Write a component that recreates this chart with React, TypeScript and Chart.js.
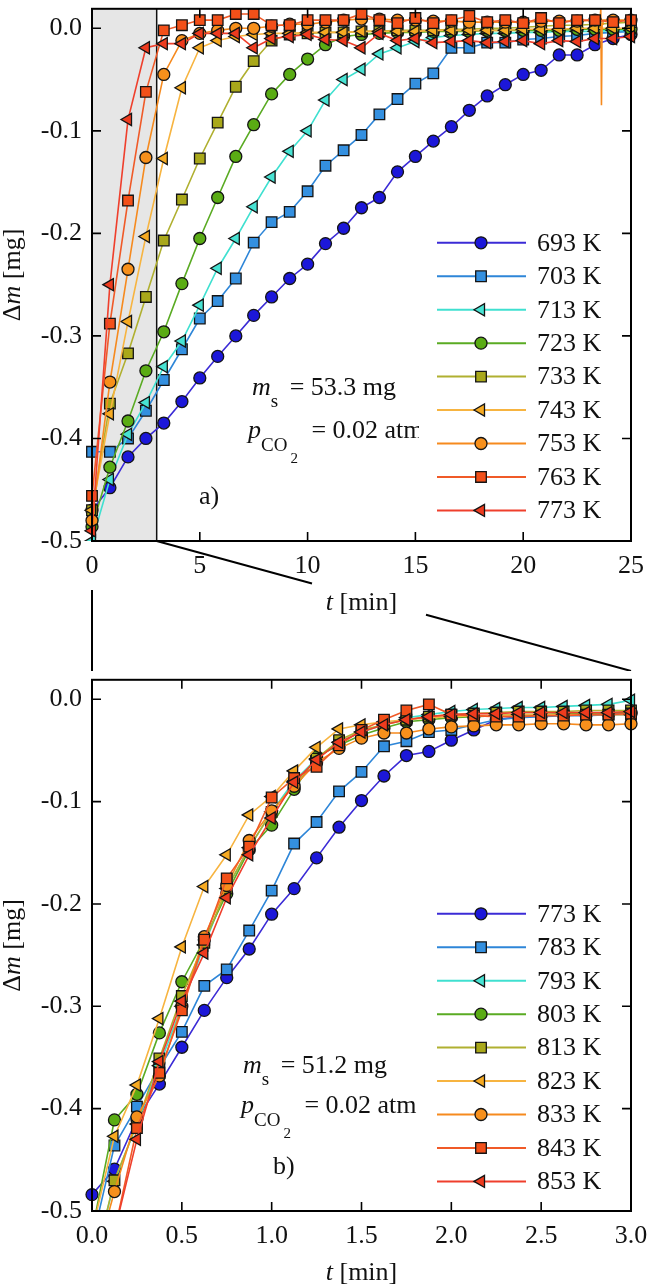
import React, { useEffect, useRef } from 'react';
import { Chart, registerables } from 'chart.js';

Chart.register(...registerables);

// ---------------- data: panel (a) ----------------
const TIME_A = [0, 0.83, 1.67, 2.5, 3.33, 4.17, 5, 5.83, 6.67, 7.5, 8.33, 9.17, 10, 10.83, 11.67, 12.5, 13.33, 14.17, 15, 15.83, 16.67, 17.5, 18.33, 19.17, 20, 20.83, 21.67, 22.5, 23.33, 24.17, 25];
const LABELS_A = ['693 K', '703 K', '713 K', '723 K', '733 K', '743 K', '753 K', '763 K', '773 K'];
const DM_A_693 = [-0.470, -0.448, -0.418, -0.400, -0.385, -0.364, -0.341, -0.320, -0.300, -0.280, -0.262, -0.244, -0.230, -0.210, -0.195, -0.175, -0.165, -0.140, -0.125, -0.110, -0.096, -0.080, -0.066, -0.055, -0.045, -0.041, -0.026, -0.026, -0.016, -0.010, -0.006];
const DM_A_703 = [-0.413, -0.413, -0.400, -0.373, -0.343, -0.313, -0.283, -0.266, -0.244, -0.209, -0.189, -0.179, -0.159, -0.134, -0.119, -0.104, -0.084, -0.069, -0.054, -0.044, -0.019, -0.019, -0.014, -0.014, -0.011, -0.010, -0.008, -0.007, -0.005, -0.004, -0.003];
const DM_A_713 = [-0.500, -0.440, -0.396, -0.365, -0.330, -0.305, -0.270, -0.234, -0.205, -0.174, -0.145, -0.120, -0.100, -0.070, -0.050, -0.040, -0.025, -0.019, -0.013, -0.009, -0.007, -0.006, -0.005, -0.005, -0.004, -0.004, -0.003, -0.003, -0.003, -0.002, -0.002];
const DM_A_723 = [-0.486, -0.428, -0.383, -0.334, -0.296, -0.249, -0.205, -0.165, -0.125, -0.094, -0.064, -0.045, -0.030, -0.016, -0.008, -0.006, -0.005, -0.004, -0.004, -0.003, -0.003, -0.003, -0.002, -0.002, -0.002, -0.002, -0.002, -0.001, -0.001, -0.001, -0.001];
const DM_A_733 = [-0.470, -0.366, -0.317, -0.262, -0.207, -0.167, -0.127, -0.092, -0.057, -0.032, -0.012, -0.006, -0.005, -0.004, -0.004, -0.003, -0.003, -0.002, -0.002, -0.002, -0.001, -0.001, 0.000, 0.000, 0.001, 0.002, 0.003, 0.003, 0.004, 0.005, 0.006];
const DM_A_743 = [-0.470, -0.376, -0.286, -0.203, -0.127, -0.058, -0.019, -0.012, -0.008, -0.006, -0.005, -0.005, -0.004, -0.004, -0.004, -0.003, -0.003, -0.003, -0.003, -0.002, -0.002, -0.002, -0.002, -0.002, -0.001, -0.001, -0.001, 0.000, 0.000, 0.000, 0.000];
const DM_A_753 = [-0.480, -0.345, -0.235, -0.126, -0.045, -0.012, -0.005, -0.002, 0.000, 0.000, 0.002, 0.004, 0.004, 0.006, 0.008, 0.009, 0.009, 0.008, 0.008, 0.007, 0.007, 0.006, 0.006, 0.006, 0.006, 0.007, 0.007, 0.007, 0.008, 0.008, 0.008];
const DM_A_763 = [-0.456, -0.288, -0.168, -0.062, -0.002, 0.003, 0.008, 0.008, 0.014, 0.014, 0.003, 0.003, 0.008, 0.008, 0.008, 0.014, 0.008, 0.005, 0.010, 0.005, 0.008, 0.012, 0.006, 0.008, 0.005, 0.010, 0.005, 0.008, 0.008, 0.006, 0.008];
const DM_A_773 = [-0.490, -0.250, -0.089, -0.019, -0.015, -0.015, -0.005, -0.005, -0.005, -0.019, -0.010, -0.008, -0.006, -0.011, -0.012, -0.019, -0.005, -0.012, -0.010, -0.014, -0.013, -0.012, -0.014, -0.013, -0.012, -0.015, -0.012, -0.013, -0.010, -0.010, -0.008];
// short glitch in the 753 K trace
const SPIKE_753_T = [23.56, 23.6, 23.63, 23.66, 23.7];
const SPIKE_753_V = [0.007, 0.019, -0.075, 0.004, 0.007];

// ---------------- data: panel (b) ----------------
const TIME_B = [0, 0.125, 0.25, 0.375, 0.5, 0.625, 0.75, 0.875, 1.0, 1.125, 1.25, 1.375, 1.5, 1.625, 1.75, 1.875, 2.0, 2.125, 2.25, 2.375, 2.5, 2.625, 2.75, 2.875, 3.0];
const LABELS_B = ['773 K', '783 K', '793 K', '803 K', '813 K', '823 K', '833 K', '843 K', '853 K'];
const DM_B_773 = [-0.484, -0.459, -0.410, -0.376, -0.340, -0.304, -0.272, -0.244, -0.210, -0.185, -0.155, -0.125, -0.099, -0.075, -0.055, -0.051, -0.040, -0.030, -0.020, -0.017, -0.016, -0.015, -0.015, -0.014, -0.014];
const DM_B_783 = [-0.530, -0.436, -0.398, -0.360, -0.325, -0.280, -0.264, -0.226, -0.187, -0.141, -0.120, -0.090, -0.071, -0.046, -0.041, -0.032, -0.030, -0.025, -0.020, -0.018, -0.017, -0.016, -0.016, -0.015, -0.015];
const DM_B_793 = [-0.560, -0.471, -0.415, -0.358, -0.300, -0.240, -0.185, -0.145, -0.110, -0.080, -0.058, -0.042, -0.032, -0.025, -0.018, -0.015, -0.012, -0.010, -0.009, -0.008, -0.008, -0.007, -0.006, -0.005, -0.001];
const DM_B_803 = [-0.520, -0.411, -0.386, -0.326, -0.276, -0.235, -0.190, -0.147, -0.123, -0.088, -0.056, -0.045, -0.035, -0.028, -0.022, -0.020, -0.018, -0.017, -0.016, -0.015, -0.015, -0.014, -0.014, -0.013, -0.013];
const DM_B_813 = [-0.560, -0.470, -0.415, -0.351, -0.290, -0.238, -0.185, -0.145, -0.110, -0.083, -0.058, -0.040, -0.030, -0.025, -0.020, -0.017, -0.015, -0.014, -0.013, -0.012, -0.012, -0.012, -0.011, -0.011, -0.011];
const DM_B_823 = [-0.520, -0.427, -0.377, -0.312, -0.242, -0.183, -0.152, -0.113, -0.095, -0.070, -0.047, -0.029, -0.025, -0.022, -0.020, -0.018, -0.017, -0.016, -0.016, -0.015, -0.015, -0.015, -0.015, -0.015, -0.015];
const DM_B_833 = [-0.560, -0.481, -0.408, -0.368, -0.300, -0.232, -0.182, -0.138, -0.109, -0.085, -0.062, -0.048, -0.038, -0.033, -0.033, -0.029, -0.027, -0.026, -0.025, -0.025, -0.024, -0.024, -0.025, -0.025, -0.024];
const DM_B_843 = [-0.620, -0.520, -0.419, -0.365, -0.304, -0.235, -0.175, -0.144, -0.096, -0.077, -0.066, -0.045, -0.030, -0.020, -0.011, -0.005, -0.015, -0.016, -0.017, -0.017, -0.016, -0.016, -0.015, -0.015, -0.014];
const DM_B_853 = [-0.620, -0.520, -0.430, -0.354, -0.295, -0.248, -0.194, -0.152, -0.116, -0.081, -0.059, -0.042, -0.032, -0.025, -0.020, -0.017, -0.015, -0.014, -0.014, -0.013, -0.013, -0.013, -0.013, -0.013, -0.012];

const Y_MIN = -0.5;
const Y_MAX = 0.019;
const Y_STEP = 0.1;

// ---------------- styles ----------------
const FAMILY = "'Liberation Serif', 'Times New Roman', serif";
const F_MAIN = `26px ${FAMILY}`;
const F_ITAL = `italic 26px ${FAMILY}`;
const F_SUB = `19px ${FAMILY}`;
const F_SUB2 = `15px ${FAMILY}`;
const TEXT = '#111';

const LINE_COLORS = ['#3b2bd6', '#2e86d8', '#3fe0d0', '#5aab23', '#b0b030', '#f7b440', '#f68a1e', '#f05a28', '#ef3f2c'];
const FILL_COLORS = ['#1c17d9', '#3490e0', '#47e3d3', '#5aac14', '#a9a81a', '#f6aa22', '#f7901c', '#f25019', '#ee3b1e'];
const STYLES = ['circle', 'rect', 'triangle', 'circle', 'rect', 'triangle', 'circle', 'rect', 'triangle'];
const RADII: Record<string, number> = { circle: 6, rect: 7.5, triangle: 7 };

type Run = [string, string, number, number?];

function drawRuns(ctx: CanvasRenderingContext2D, x: number, y: number, runs: Run[]) {
  let cx = x;
  for (const [text, font, dy, dx] of runs) {
    cx += dx || 0;
    ctx.font = font;
    ctx.fillText(text, cx, y + dy);
    cx += ctx.measureText(text).width;
  }
  return cx;
}

function runsWidth(ctx: CanvasRenderingContext2D, runs: Run[]) {
  let w = 0;
  for (const [text, font, , dx] of runs) {
    ctx.font = font;
    w += ctx.measureText(text).width + (dx || 0);
  }
  return w;
}

function drawMarker(ctx: CanvasRenderingContext2D, style: string, x: number, y: number, fill: string) {
  const r = RADII[style];
  ctx.beginPath();
  if (style === 'circle') {
    ctx.arc(x, y, r, 0, Math.PI * 2);
  } else if (style === 'rect') {
    const s = r * Math.SQRT1_2;
    ctx.rect(x - s, y - s, 2 * s, 2 * s);
  } else {
    ctx.moveTo(x - r, y);
    ctx.lineTo(x + r / 2, y - r * 0.866);
    ctx.lineTo(x + r / 2, y + r * 0.866);
    ctx.closePath();
  }
  ctx.fillStyle = fill;
  ctx.fill();
  ctx.lineWidth = 1.3;
  ctx.strokeStyle = '#141414';
  ctx.stroke();
}

type Panel = {
  id: string;
  times: number[];
  series: number[][];
  labels: string[];
  extra?: { t: number[]; v: number[]; color: number }[];
  xMin: number;
  xMax: number;
  xStep: number;
  xDecimals: number;
  canvasHeight: number;
  padTop: number;
  xAxisHeight: number;
  shadeTo?: number;
  mRuns: Run[];
  pRuns: Run[];
  tag: string;
  mX: number; mBase: number;
  pX: number; pBase: number;
  tagX: number; tagBase: number;
  titleBase: number;
  connectors: boolean;
};

const PANEL_A: Panel = {
  id: 'a',
  times: TIME_A,
  series: [DM_A_693, DM_A_703, DM_A_713, DM_A_723, DM_A_733, DM_A_743, DM_A_753, DM_A_763, DM_A_773],
  labels: LABELS_A,
  extra: [{ t: SPIKE_753_T, v: SPIKE_753_V, color: 6 }],
  xMin: 0, xMax: 25, xStep: 5, xDecimals: 0,
  canvasHeight: 671, padTop: 3, xAxisHeight: 130,
  shadeTo: 3,
  mRuns: [['m', F_ITAL, 0], ['s', F_SUB, 12], [' = 53.3 mg', F_MAIN, 0, 5]],
  pRuns: [['p', F_ITAL, 0], ['CO', F_SUB, 13], ['2', F_SUB2, 25, 3], [' = 0.02 atm', F_MAIN, 0, 7]],
  tag: 'a)',
  mX: 252, mBase: 386,
  pX: 248, pBase: 429,
  tagX: 199, tagBase: 495,
  titleBase: 610,
  connectors: true,
};

const PANEL_B: Panel = {
  id: 'b',
  times: TIME_B,
  series: [DM_B_773, DM_B_783, DM_B_793, DM_B_803, DM_B_813, DM_B_823, DM_B_833, DM_B_843, DM_B_853],
  labels: LABELS_B,
  xMin: 0, xMax: 3, xStep: 0.5, xDecimals: 1,
  canvasHeight: 616, padTop: 1, xAxisHeight: 76,
  mRuns: [['m', F_ITAL, 0], ['s', F_SUB, 12], [' = 51.2 mg', F_MAIN, 0, 5]],
  pRuns: [['p', F_ITAL, 0], ['CO', F_SUB, 13], ['2', F_SUB2, 25, 3], [' = 0.02 atm', F_MAIN, 0, 7]],
  tag: 'b)',
  mX: 243, mBase: 393,
  pX: 241, pBase: 433,
  tagX: 273, tagBase: 494,
  titleBase: 609,
  connectors: false,
};

function panelPlugin(p: Panel) {
  return {
    id: 'panel-' + p.id,
    beforeDatasetsDraw(chart: any) {
      if (p.shadeTo == null) return;
      const { ctx, chartArea: ca, scales } = chart;
      const xr = scales.x.getPixelForValue(p.shadeTo);
      ctx.save();
      ctx.fillStyle = '#e6e6e6';
      ctx.fillRect(ca.left, ca.top, xr - ca.left, ca.bottom - ca.top);
      ctx.strokeStyle = '#111';
      ctx.lineWidth = 1.5;
      ctx.beginPath();
      ctx.moveTo(xr, ca.top);
      ctx.lineTo(xr, ca.bottom);
      ctx.stroke();
      ctx.restore();
    },
    afterDraw(chart: any) {
      const { ctx, chartArea: ca, scales } = chart;
      const xs = scales.x;
      const ys = scales.y;
      ctx.save();
      ctx.fillStyle = TEXT;
      ctx.textAlign = 'left';
      ctx.textBaseline = 'alphabetic';

      // annotations
      drawRuns(ctx, p.mX, ca.top + p.mBase, p.mRuns);
      drawRuns(ctx, p.pX, ca.top + p.pBase, p.pRuns);
      ctx.font = F_MAIN;
      ctx.fillText(p.tag, p.tagX, ca.top + p.tagBase);

      // legend
      const rows = p.labels.map((_, k) => ca.top + 234 + 33.45 * k);
      ctx.fillStyle = '#fff';
      ctx.fillRect(419, rows[0] - 17, ca.right - 1 - 419, rows[rows.length - 1] - rows[0] + 34);
      p.labels.forEach((lab, k) => {
        ctx.strokeStyle = LINE_COLORS[k];
        ctx.lineWidth = 2;
        ctx.beginPath();
        ctx.moveTo(437, rows[k]);
        ctx.lineTo(526, rows[k]);
        ctx.stroke();
        drawMarker(ctx, STYLES[k], 481, rows[k], FILL_COLORS[k]);
        ctx.fillStyle = TEXT;
        ctx.font = F_MAIN;
        ctx.textBaseline = 'middle';
        ctx.fillText(lab, 537, rows[k] + 1);
      });
      ctx.textBaseline = 'alphabetic';

      // frame
      ctx.strokeStyle = '#000';
      ctx.lineWidth = 2;
      ctx.strokeRect(ca.left, ca.top, ca.right - ca.left, ca.bottom - ca.top);

      // inward ticks on all four sides
      ctx.lineWidth = 1.6;
      ctx.beginPath();
      xs.ticks.forEach((t: any) => {
        const px = xs.getPixelForValue(t.value);
        ctx.moveTo(px, ca.bottom);
        ctx.lineTo(px, ca.bottom - 9);
        ctx.moveTo(px, ca.top);
        ctx.lineTo(px, ca.top + 9);
      });
      ys.ticks.forEach((t: any) => {
        const py = ys.getPixelForValue(t.value);
        ctx.moveTo(ca.left, py);
        ctx.lineTo(ca.left + 9, py);
        ctx.moveTo(ca.right, py);
        ctx.lineTo(ca.right - 9, py);
      });
      ctx.stroke();

      // x title
      ctx.fillStyle = TEXT;
      const xRuns: Run[] = [['t', F_ITAL, 0], [' [min]', F_MAIN, 0]];
      const xw = runsWidth(ctx, xRuns);
      drawRuns(ctx, (ca.left + ca.right) / 2 - xw / 2, p.titleBase, xRuns);

      // y title
      const yRuns: Run[] = [['\u0394', F_MAIN, 0], ['m', F_ITAL, 0], [' [mg]', F_MAIN, 0]];
      const yw = runsWidth(ctx, yRuns);
      ctx.save();
      ctx.translate(20, (ca.top + ca.bottom) / 2);
      ctx.rotate(-Math.PI / 2);
      drawRuns(ctx, -yw / 2, 0, yRuns);
      ctx.restore();

      // zoom connectors to panel (b)
      if (p.connectors) {
        const x3 = xs.getPixelForValue(p.shadeTo ?? 3);
        const H = chart.height;
        const slope = (H - ca.bottom) / (ca.right - x3);
        ctx.strokeStyle = '#000';
        ctx.lineWidth = 2;
        ctx.beginPath();
        ctx.moveTo(x3, ca.bottom);
        ctx.lineTo(312, ca.bottom + slope * (312 - x3));
        ctx.moveTo(426, ca.bottom + slope * (426 - x3));
        ctx.lineTo(ca.right, H);
        ctx.moveTo(ca.left, 590);
        ctx.lineTo(ca.left, H);
        ctx.stroke();
      }
      ctx.restore();
    },
  };
}

function makeConfig(p: Panel): any {
  const clip = { left: 10, top: 10, right: 10, bottom: 0 };
  const datasets: any[] = p.series.map((vals, i) => ({
    label: p.labels[i],
    data: p.times.map((t, k) => ({ x: t, y: vals[k] })),
    borderColor: LINE_COLORS[i],
    backgroundColor: FILL_COLORS[i],
    borderWidth: 1.6,
    pointStyle: STYLES[i],
    pointRadius: RADII[STYLES[i]],
    pointRotation: STYLES[i] === 'triangle' ? -90 : 0,
    pointBackgroundColor: FILL_COLORS[i],
    pointBorderColor: '#141414',
    pointBorderWidth: 1.3,
    tension: 0,
    clip,
    order: 20 - i,
  }));
  (p.extra || []).forEach((e) => {
    datasets.push({
      label: 'extra',
      data: e.t.map((t, k) => ({ x: t, y: e.v[k] })),
      borderColor: LINE_COLORS[e.color],
      borderWidth: 1.6,
      pointRadius: 0,
      tension: 0,
      clip,
      order: 20.5 - e.color,
    });
  });
  const tickFont = { family: FAMILY, size: 26 };
  return {
    type: 'line',
    data: { datasets },
    options: {
      responsive: false,
      animation: false,
      events: [],
      layout: { padding: { top: p.padTop, right: 18, bottom: 0, left: 0 } },
      plugins: { legend: { display: false }, tooltip: { enabled: false } },
      scales: {
        x: {
          type: 'linear',
          min: p.xMin,
          max: p.xMax,
          grid: { display: false, drawTicks: false, drawOnChartArea: false },
          border: { display: false },
          ticks: {
            stepSize: p.xStep,
            padding: 10,
            autoSkip: false,
            maxRotation: 0,
            color: TEXT,
            font: tickFont,
            callback: (v: any) => Number(v).toFixed(p.xDecimals),
          },
          afterFit: (s: any) => {
            s.height = p.xAxisHeight;
            s.paddingLeft = 0;
            s.paddingRight = 0;
          },
        },
        y: {
          type: 'linear',
          min: Y_MIN,
          max: Y_MAX,
          grid: { display: false, drawTicks: false, drawOnChartArea: false },
          border: { display: false },
          ticks: {
            stepSize: Y_STEP,
            includeBounds: false,
            padding: 10,
            color: TEXT,
            font: tickFont,
            callback: (v: any) => Number(v).toFixed(1),
          },
          afterFit: (s: any) => {
            s.width = 92;
            s.paddingTop = 0;
            s.paddingBottom = 0;
          },
        },
      },
    },
    plugins: [panelPlugin(p)],
  };
}

export default function App() {
  const refA = useRef<HTMLCanvasElement>(null);
  const refB = useRef<HTMLCanvasElement>(null);
  useEffect(() => {
    const a = new Chart(refA.current as HTMLCanvasElement, makeConfig(PANEL_A));
    const b = new Chart(refB.current as HTMLCanvasElement, makeConfig(PANEL_B));
    return () => {
      a.destroy();
      b.destroy();
    };
  }, []);
  return (
    <div style={{ position: 'absolute', left: 0, top: 0, width: 649, height: 1287, background: '#fff' }}>
      <canvas ref={refA} width={649} height={671} style={{ position: 'absolute', left: 0, top: 0 }} />
      <canvas ref={refB} width={649} height={616} style={{ position: 'absolute', left: 0, top: 671 }} />
    </div>
  );
}
